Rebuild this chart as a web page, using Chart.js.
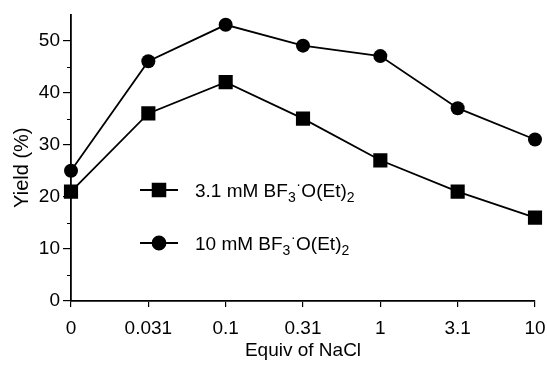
<!DOCTYPE html>
<html>
<head>
<meta charset="utf-8">
<script src="https://cdn.jsdelivr.net/npm/chart.js@4/dist/chart.umd.min.js"></script>
<style>
  html, body { margin: 0; padding: 0; background: #fff; }
  #wrap { width: 547px; height: 365px; position: relative; }
</style>
</head>
<body>
<div id="wrap"><canvas id="c" width="547" height="365"></canvas></div>
<script>
const categories = ['0', '0.031', '0.1', '0.31', '1', '3.1', '10'];
const yield31mM = [21, 36, 42, 35, 27, 21, 16];
const yield10mM = [25, 46, 53, 49, 47, 37, 31];
const yTickValues = [0, 10, 20, 30, 40, 50];
const yMinorTickValues = [5, 15, 25, 35, 45];
const xTitle = 'Equiv of NaCl';
const yTitle = 'Yield (%)';
// text pieces: [text, kind] kind: n = normal, s = subscript, d = raised dot
const seriesNames = [
  [['3.1 mM BF', 'n'], ['3', 's'], ['·', 'd'], ['O(Et)', 'n'], ['2', 's']],
  [['10 mM BF', 'n'], ['3', 's'], ['·', 'd'], ['O(Et)', 'n'], ['2', 's']]
];

const FONT = "'Liberation Sans', Arial, Helvetica, sans-serif";

const minorTicks = {
  id: 'minorTicks',
  afterDraw(chart) {
    const ctx = chart.ctx;
    const y = chart.scales.y;
    ctx.save();
    ctx.strokeStyle = '#000';
    ctx.lineWidth = 1;
    yMinorTickValues.forEach(v => {
      const py = Math.round(y.getPixelForValue(v)) + 0.5;
      ctx.beginPath();
      ctx.moveTo(y.right - 4, py);
      ctx.lineTo(y.right, py);
      ctx.stroke();
    });
    ctx.restore();
  }
};

const yAxisTitle = {
  id: 'yAxisTitle',
  afterDraw(chart) {
    const ctx = chart.ctx;
    const a = chart.chartArea;
    ctx.save();
    ctx.translate(22, (a.top + a.bottom) / 2 + 10);
    ctx.rotate(-Math.PI / 2);
    ctx.font = '20px ' + FONT;
    ctx.fillStyle = '#000';
    ctx.textAlign = 'center';
    ctx.textBaseline = 'middle';
    ctx.fillText(yTitle, 0, 0);
    ctx.restore();
  }
};

const insetLegend = {
  id: 'insetLegend',
  afterDatasetsDraw(chart) {
    const ctx = chart.ctx;
    const rows = [190, 243];
    ctx.save();
    chart.data.datasets.forEach((ds, i) => {
      const y = rows[i];
      ctx.strokeStyle = '#000';
      ctx.lineWidth = 1.8;
      ctx.beginPath();
      ctx.moveTo(140, y);
      ctx.lineTo(178, y);
      ctx.stroke();
      const r = ds.pointStyle === 'rect' ? 9 : 6.5;
      Chart.helpers.drawPoint(ctx, {pointStyle: ds.pointStyle, radius: r, rotation: 0, borderWidth: 1}, 159, y);
      ctx.fillStyle = '#000';
      ctx.fill();
      let x = 195;
      ctx.textBaseline = 'alphabetic';
      ctx.textAlign = 'left';
      seriesNames[i].forEach(([p, kind]) => {
        let dy = 0, post = 0;
        if (kind === 's') { ctx.font = '14px ' + FONT; dy = 5; post = 0.5; }
        else if (kind === 'd') { ctx.font = '14px ' + FONT; dy = -8; post = 0.5; }
        else { ctx.font = '19px ' + FONT; }
        ctx.fillText(p, x, y + 7 + dy);
        x += ctx.measureText(p).width + post;
      });
    });
    ctx.restore();
  }
};

new Chart(document.getElementById('c'), {
  type: 'line',
  data: {
    labels: categories,
    datasets: [
      {
        label: '3.1 mM BF3·O(Et)2',
        data: yield31mM,
        borderColor: '#000',
        backgroundColor: '#000',
        borderWidth: 1.8,
        pointStyle: 'rect',
        pointRadius: 10,
        pointBorderWidth: 0,
        tension: 0
      },
      {
        label: '10 mM BF3·O(Et)2',
        data: yield10mM,
        borderColor: '#000',
        backgroundColor: '#000',
        borderWidth: 1.8,
        pointStyle: 'circle',
        pointRadius: 7,
        pointBorderWidth: 0,
        tension: 0
      }
    ]
  },
  options: {
    responsive: false,
    animation: false,
    layout: { padding: { top: 14, right: 12, left: 0, bottom: 0 } },
    plugins: { legend: { display: false }, tooltip: { enabled: false } },
    scales: {
      x: {
        type: 'category',
        offset: false,
        grid: { display: true, drawOnChartArea: false, drawTicks: true, tickLength: 6, color: '#000', lineWidth: 1.2 },
        border: { display: true, color: '#000', width: 1.8 },
        ticks: { color: '#000', font: { family: FONT, size: 19 }, padding: 10, maxRotation: 0, autoSkip: false },
        title: { display: true, text: xTitle, color: '#000', font: { family: FONT, size: 19 }, padding: { top: 0, bottom: 3 } },
        afterFit(s) { s.height = 64; s.paddingLeft = 0; s.paddingRight = 0; }
      },
      y: {
        min: 0,
        max: 55,
        afterBuildTicks(s) { s.ticks = yTickValues.map(v => ({ value: v })); },
        grid: { display: true, drawOnChartArea: false, drawTicks: true, tickLength: 8, color: '#000', lineWidth: 1.2 },
        border: { display: true, color: '#000', width: 1.8 },
        ticks: { color: '#000', font: { family: FONT, size: 19 }, padding: 3 },
        title: { display: false, text: yTitle },
        afterFit(s) { s.width = 71; }
      }
    }
  },
  plugins: [minorTicks, yAxisTitle, insetLegend]
});
</script>
</body>
</html>
